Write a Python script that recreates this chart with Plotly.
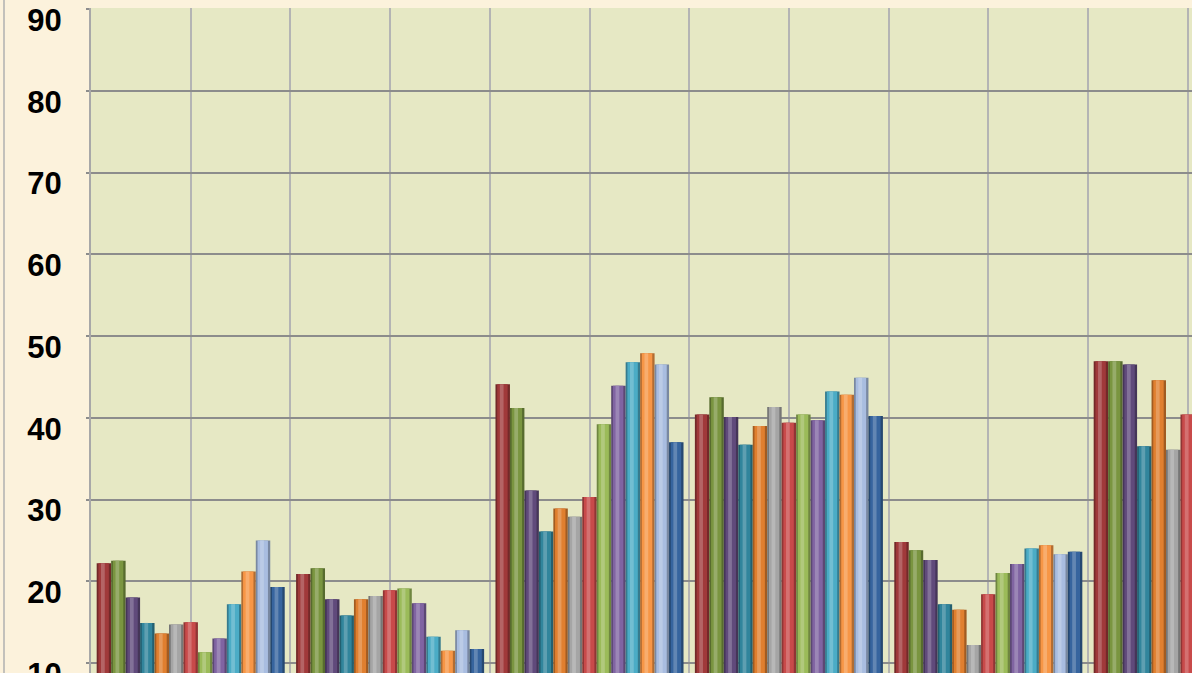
import plotly.graph_objects as go

categories = ["Category 1", "Category 2", "Category 3", "Category 4", "Category 5", "Category 6"]

series_names = ["Series 1", "Series 2", "Series 3", "Series 4", "Series 5", "Series 6", "Series 7",
                "Series 8", "Series 9", "Series 10", "Series 11", "Series 12", "Series 13"]

series_colors = ["#a0393a", "#7a9540", "#604a7b", "#31859c", "#e07f2f", "#a5a5a5", "#c84a4a",
                 "#9bbb59", "#8064a2", "#4bacc6", "#f79646", "#a9bde0", "#36649e"]

# values[series][category]
s1 = [22.2, 20.9, 44.1, 40.4, 24.8, 46.9]
s2 = [22.5, 21.6, 41.2, 42.5, 23.8, 46.9]
s3 = [18.0, 17.8, 31.1, 40.1, 22.6, 46.5]
s4 = [14.9, 15.8, 26.1, 36.7, 17.2, 36.5]
s5 = [13.6, 17.8, 28.9, 39.0, 16.5, 44.6]
s6 = [14.7, 18.2, 27.9, 41.3, 12.2, 36.1]
s7 = [15.0, 18.9, 30.3, 39.4, 18.4, 40.4]
s8 = [11.3, 19.1, 39.2, 40.4, 21.0, 44.0]
s9 = [13.0, 17.3, 43.9, 39.7, 22.1, 45.0]
s10 = [17.2, 13.2, 46.8, 43.2, 24.0, 46.0]
s11 = [21.2, 11.5, 47.9, 42.8, 24.4, 47.0]
s12 = [25.0, 14.0, 46.5, 44.9, 23.3, 46.0]
s13 = [19.3, 11.7, 37.0, 40.2, 23.6, 42.0]

series_values = [s1, s2, s3, s4, s5, s6, s7, s8, s9, s10, s11, s12, s13]

y_ticks = [10, 20, 30, 40, 50, 60, 70, 80, 90]

W, H = 1192, 700          # page is photographed at 673 px high; the rest is cropped as in the reference
ML, MT = 91, 8
plot_w = W - ML
plot_h = H - MT
cat_px = 199.4
px_per_unit = 8.175
y_top = 90 + 1 / px_per_unit
y_bottom = y_top - plot_h / px_per_unit

bargap = 0.057
group_w = 1 - bargap
bar_w = group_w / len(series_names)

x_pos = list(range(len(categories)))


def hex_to_rgb(h):
    h = h.lstrip("#")
    return tuple(int(h[i:i + 2], 16) for i in (0, 2, 4))


def shade(h, f):
    r, g, b = hex_to_rgb(h)
    return "rgb(%d,%d,%d)" % (int(r * f), int(g * f), int(b * f))


def tint(h, t):
    r, g, b = hex_to_rgb(h)
    return "rgb(%d,%d,%d)" % (int(r + (255 - r) * t), int(g + (255 - g) * t), int(b + (255 - b) * t))


fig = go.Figure()
for i, (name, color, vals) in enumerate(zip(series_names, series_colors, series_values)):
    left = -group_w / 2 + i * bar_w
    # cylinder body: dark rim, main colour, light highlight
    layers = [
        (shade(color, 0.72), left, bar_w),
        (color, left + bar_w * 0.12, bar_w * 0.72),
        (tint(color, 0.22), left + bar_w * 0.30, bar_w * 0.26),
    ]
    for j, (c, off, wid) in enumerate(layers):
        fig.add_trace(go.Bar(
            x=x_pos, y=vals, name=name,
            offset=off, width=wid,
            marker=dict(color=c, line=dict(width=0)),
            hovertext=categories,
            showlegend=False,
            hoverinfo="skip" if j else "x+y+name",
        ))

fig.update_layout(
    width=W, height=H,
    margin=dict(l=ML, r=0, t=MT, b=0, pad=0),
    paper_bgcolor="#fcf2dc",
    plot_bgcolor="#e6e8c4",
    barmode="overlay",
    showlegend=False,
    xaxis=dict(
        range=[-0.5, -0.5 + plot_w / cat_px],
        tick0=-0.5, dtick=0.5,
        showticklabels=False,
        ticks="",
        showgrid=True, gridcolor="#b4b4b4", gridwidth=2,
        zeroline=False,
        showline=False,
    ),
    yaxis=dict(
        range=[y_bottom, y_top],
        tickvals=y_ticks,
        ticktext=[str(v) for v in y_ticks],
        tickfont=dict(family="Liberation Sans, Arial, sans-serif", size=31, color="black", weight="bold"),
        ticks="outside", ticklen=3, tickcolor="#8c8c8c", tickwidth=2,
        ticklabelstandoff=18,
        ticklabelshift=11,
        showgrid=True, gridcolor="#8c8c8c", gridwidth=2,
        zeroline=False,
        showline=True, linecolor="#a8a8a8", linewidth=2,
    ),
    shapes=[dict(
        type="line", xref="paper", yref="paper",
        x0=(4 - ML) / plot_w, x1=(4 - ML) / plot_w, y0=-0.1, y1=1.1,
        line=dict(color="#b0b0b0", width=1.5),
    )],
)

fig.write_html("out.html", config={"displayModeBar": False},
               post_script="document.body.style.margin='0';document.body.style.overflow='hidden';")
